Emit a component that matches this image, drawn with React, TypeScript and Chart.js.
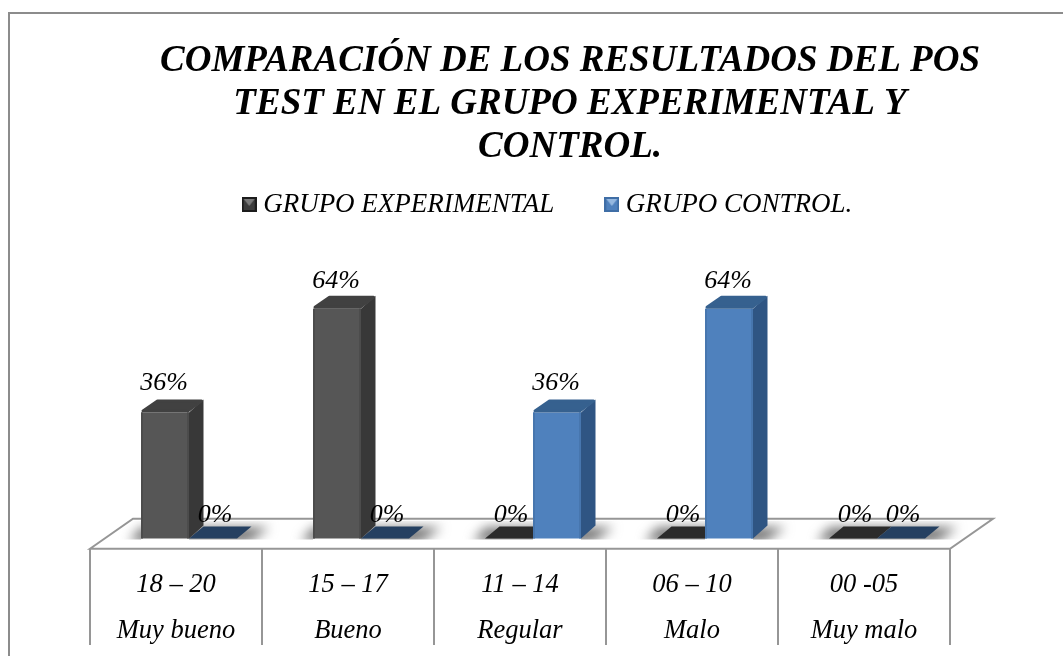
import React, { useEffect, useRef } from "react";
import { Chart, registerables } from "chart.js";

Chart.register(...registerables);

const rangeLabels = ["18 – 20", "15 – 17", "11 – 14", "06 – 10", "00 -05"];
const qualityLabels = ["Muy bueno", "Bueno", "Regular", "Malo", "Muy malo"];
const experimental = [36, 64, 0, 0, 0];
const control = [0, 0, 36, 64, 0];
const titleLines = [
  "COMPARACIÓN DE LOS RESULTADOS DEL POS",
  "TEST EN EL GRUPO EXPERIMENTAL Y",
  "CONTROL.",
];

const SERIF = "'Liberation Serif', serif";
const DX = 14.5;
const DY = 13;
const LIFT = 7.2;
const TABLE_BOTTOM = 645;
const GREY = "#969696";

const palette = [
  { front: "#565656", edge: "#4c4c4c", side: "#383838", top: "#414141", flat: "#2b2b2b" },
  { front: "#4f81bd", edge: "#4776ae", side: "#2f5583", top: "#36618f", flat: "#254061" },
];

function legendIcon(outer: string, inner: string, tri: string) {
  const c = document.createElement("canvas");
  c.width = 15;
  c.height = 15;
  const g = c.getContext("2d")!;
  g.fillStyle = outer;
  g.fillRect(0, 0, 15, 15);
  g.fillStyle = inner;
  g.fillRect(2, 2, 11, 11);
  g.fillStyle = tri;
  g.beginPath();
  g.moveTo(2, 2);
  g.lineTo(13, 2);
  g.lineTo(7.5, 9);
  g.closePath();
  g.fill();
  return c;
}

const box3d = {
  id: "box3d",
  afterLayout(chart: any) {
    const t = chart.titleBlock;
    const l = chart.legend;
    t.left += 37;
    t.right += 37;
    const th = t.height;
    t.top = 39.5;
    t.bottom = t.top + th;
    l.left += 17.5;
    l.right += 17.5;
    const lh = l.height;
    l.top = 134;
    l.bottom = l.top + lh;
  },
  beforeDraw(chart: any) {
    const g = chart.ctx;
    g.save();
    g.fillStyle = "#ffffff";
    g.fillRect(0, 0, chart.width, chart.height);
    g.strokeStyle = "#8c8c8c";
    g.lineWidth = 2;
    g.beginPath();
    g.moveTo(9, chart.height);
    g.lineTo(9, 13);
    g.lineTo(chart.width, 13);
    g.stroke();
    g.restore();
  },
  beforeDatasetsDraw(chart: any) {
    const g = chart.ctx;
    const xs = chart.scales.x;
    const base = chart.scales.y.getPixelForValue(0);
    const step = xs.width / rangeLabels.length;
    const left = xs.left - 13;
    const right = left + step * rangeLabels.length;
    const front = base + 3;
    const back = front - 30;
    g.save();
    g.strokeStyle = GREY;
    g.lineWidth = 2;
    g.beginPath();
    g.moveTo(left, front);
    g.lineTo(left + 43, back);
    g.lineTo(right + 43, back);
    g.lineTo(right, front);
    g.closePath();
    g.stroke();
    g.beginPath();
    for (let i = 0; i <= rangeLabels.length; i++) {
      g.moveTo(left + i * step, front);
      g.lineTo(left + i * step, TABLE_BOTTOM);
    }
    g.stroke();
    const yB = base - LIFT;
    const metas = [chart.getDatasetMeta(0), chart.getDatasetMeta(1)];
    g.save();
    g.beginPath();
    g.rect(left, back + 2, right - left + 43, yB + 1 - back - 2);
    g.clip();
    g.filter = "blur(6px)";
    g.fillStyle = "#6e6e6e";
    metas[0].data.forEach((bar: any, i: number) => {
      const a = bar.x - bar.width / 2;
      const b = metas[1].data[i].x + metas[1].data[i].width / 2;
      g.beginPath();
      g.moveTo(a - 12, yB + 3);
      g.lineTo(b + 12, yB + 3);
      g.lineTo(b + DX + 18, yB - DY + 2);
      g.lineTo(a + DX - 14, yB - DY + 2);
      g.closePath();
      g.fill();
    });
    g.restore();
    metas.forEach((meta, d) => {
      meta.data.forEach((bar: any, i: number) => {
        const v = chart.data.datasets[d].data[i];
        if (v !== 0) return;
        const a = bar.x - bar.width / 2;
        const b = bar.x + bar.width / 2;
        g.fillStyle = palette[d].flat;
        g.beginPath();
        g.moveTo(a, yB);
        g.lineTo(b, yB);
        g.lineTo(b + DX, yB - DY + 1);
        g.lineTo(a + DX, yB - DY + 1);
        g.closePath();
        g.fill();
      });
    });
    g.restore();
  },
  afterDatasetsDraw(chart: any) {
    const g = chart.ctx;
    const base = chart.scales.y.getPixelForValue(0);
    const yB = base - LIFT;
    g.save();
    [0, 1].forEach((d) => {
      chart.getDatasetMeta(d).data.forEach((bar: any, i: number) => {
        const v = chart.data.datasets[d].data[i];
        const a = bar.x - bar.width / 2;
        const b = bar.x + bar.width / 2;
        if (v !== 0) {
          const c = palette[d];
          g.fillStyle = "#ffffff";
          g.fillRect(a, yB, b - a, base - yB + 1);
          g.fillStyle = c.edge;
          g.fillRect(a, bar.y, 2, yB - bar.y);
          g.fillRect(b - 2, bar.y, 2, yB - bar.y);
          g.fillStyle = c.side;
          g.strokeStyle = c.side;
          g.lineWidth = 1;
          g.lineJoin = "round";
          g.beginPath();
          g.moveTo(b, bar.y);
          g.lineTo(b + DX, bar.y - DY);
          g.lineTo(b + DX, yB - DY);
          g.lineTo(b, yB);
          g.closePath();
          g.fill();
          g.fillStyle = c.top;
          g.strokeStyle = c.top;
          g.lineWidth = 3;
          g.beginPath();
          g.moveTo(a + 2, bar.y - 1.5);
          g.lineTo(b - 1, bar.y - 1.5);
          g.lineTo(b + DX - 2, bar.y - DY + 1.5);
          g.lineTo(a + DX + 2, bar.y - DY + 1.5);
          g.closePath();
          g.fill();
          g.stroke();
        }
      });
    });
    g.fillStyle = "#000000";
    g.font = `italic 26px ${SERIF}`;
    g.textAlign = "center";
    g.textBaseline = "middle";
    [0, 1].forEach((d) => {
      chart.getDatasetMeta(d).data.forEach((bar: any, i: number) => {
        const v = chart.data.datasets[d].data[i];
        g.fillText(`${v}%`, bar.x + (v === 0 ? 2 : -1), bar.y - (v === 0 ? 31 : v > 50 ? 27.5 : 29));
      });
    });
    g.restore();
  },
};

export default function App() {
  const ref = useRef<HTMLCanvasElement>(null);
  useEffect(() => {
    const chart = new Chart(ref.current!, {
      type: "bar",
      data: {
        labels: rangeLabels.map((r, i) => [r, qualityLabels[i]]),
        datasets: [
          {
            label: "GRUPO EXPERIMENTAL",
            data: experimental,
            backgroundColor: palette[0].front,
            pointStyle: legendIcon("#1c1c1c", "#3c3c3c", "#7a7a7a"),
          } as any,
          {
            label: "GRUPO CONTROL.",
            data: control,
            backgroundColor: palette[1].front,
            pointStyle: legendIcon("#3f6ea6", "#4f81bd", "#95b8e0"),
          } as any,
        ],
      },
      plugins: [box3d],
      options: {
        responsive: false,
        animation: false,
        layout: { padding: { left: 103, right: 100, top: 60.5, bottom: 0 } },
        datasets: { bar: { barPercentage: 1, categoryPercentage: 96 / 172, borderWidth: 0 } },
        plugins: {
          tooltip: { enabled: false },
          title: {
            display: true,
            text: titleLines,
            color: "#000000",
            font: { family: SERIF, size: 37, style: "italic", weight: "bold", lineHeight: 43 / 37 },
            padding: { top: 0, bottom: 3 },
          },
          legend: {
            display: true,
            position: "top",
            labels: {
              usePointStyle: true,
              pointStyleWidth: 1,
              color: "#000000",
              font: { family: SERIF, size: 27, style: "italic" },
              padding: 57,
            },
          },
        },
        scales: {
          x: {
            grid: { display: false },
            border: { display: false },
            afterFit: (s: any) => {
              s.height = 110.3;
            },
            ticks: {
              autoSkip: false,
              maxRotation: 0,
              labelOffset: -13,
              padding: 8,
              color: "#000000",
              font: { family: SERIF, size: 26.5, style: "italic", lineHeight: 46 / 26.5 },
            },
          },
          y: { display: false, min: 0, max: 70 },
        },
      },
    });
    return () => chart.destroy();
  }, []);
  return (
    <div style={{ position: "fixed", left: 0, top: 0, width: 1063, height: 656, background: "#fff" }}>
      <canvas ref={ref} width={1063} height={656} style={{ display: "block" }} />
    </div>
  );
}
